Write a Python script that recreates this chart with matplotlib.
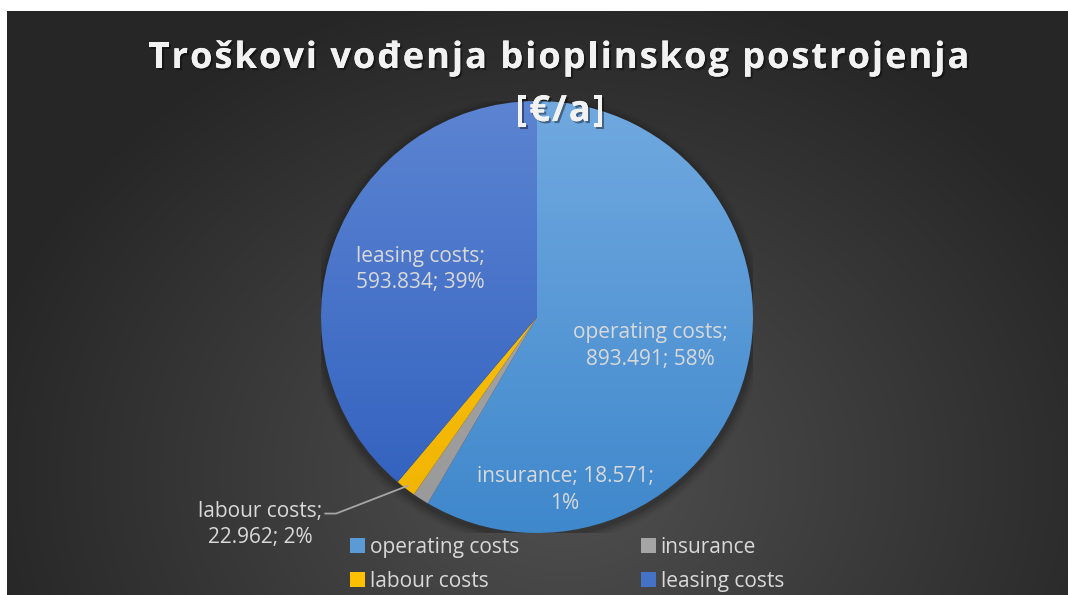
import numpy as np
import matplotlib.pyplot as plt
import matplotlib.patheffects as pe
from matplotlib.patches import Wedge, Circle
from matplotlib.colors import to_rgb

# Dati
categories = ["operating costs", "insurance", "labour costs", "leasing costs"]
values = [893491, 18571, 22962, 593834]
title_lines = ["Troškovi vođenja bioplinskog postrojenja", "[€/a]"]

# colori (alto, basso) per il gradiente di ogni fetta
colors_top = ["#71a9e0", "#ababab", "#ffc617", "#5c84d2"]
colors_bot = ["#3f88cc", "#999999", "#f0b400", "#2f5fbd"]
legend_colors = ["#5b9bd5", "#a5a5a5", "#ffc000", "#4472c4"]


def fmt_thousands(v):
    return f"{v:,}".replace(",", ".")


W, H = 1068, 595
fig = plt.figure(figsize=(W / 100, H / 100), dpi=100, facecolor="white")

# Sfondo con gradiente radiale
ax_bg = fig.add_axes([0, 0, 1, 1])
ax_bg.set_xlim(0, W)
ax_bg.set_ylim(H, 0)
ax_bg.axis("off")
yy, xx = np.mgrid[0:H, 0:W]
d = np.sqrt(((xx - 560) / 620.0) ** 2 + ((yy - 470) / 520.0) ** 2)
g = np.clip(0.315 - 0.17 * d, 0.15, 0.315)
img = np.dstack([g, g, g])
ax_bg.imshow(img, extent=[7, W, H, 11], zorder=0)

# Assi della torta
cx, cy, r = 537, 317, 216
ax = fig.add_axes([(cx - r) / W, (H - cy - r) / H, 2 * r / W, 2 * r / H])
ax.set_xlim(-1, 1)
ax.set_ylim(-1, 1)
ax.set_aspect("equal")
ax.axis("off")

# ombra
for k, a in enumerate([0.10, 0.08, 0.06, 0.04]):
    ax.add_patch(Circle((0, -0.015), 1 + 0.012 * (k + 1), color="black", alpha=a, lw=0, zorder=1))

total = sum(values)
pcts = [v / total * 100 for v in values]
angle = 90.0
grad = np.linspace(1, 0, 256).reshape(-1, 1)
wedges = []
for i, v in enumerate(values):
    span = v / total * 360.0
    w = Wedge((0, 0), 1, angle - span, angle, lw=0, facecolor="none", zorder=2)
    ax.add_patch(w)
    c1 = np.array(to_rgb(colors_top[i]))
    c2 = np.array(to_rgb(colors_bot[i]))
    cols = (grad[..., None] * c1 + (1 - grad[..., None]) * c2)
    im = ax.imshow(cols, extent=[-1, 1, -1, 1], origin="upper", zorder=2, aspect="auto")
    im.set_clip_path(w)
    wedges.append((angle - span, angle))
    angle -= span

lab_col = "#d9d9d9"
fs = 15
labels = [
    f"{categories[0]};\n{fmt_thousands(values[0])}; {round(pcts[0])}%",
    f"{categories[1]}; {fmt_thousands(values[1])};\n{round(pcts[1])}%",
    f"{categories[2]};\n{fmt_thousands(values[2])}; {round(pcts[2])}%",
    f"{categories[3]};\n{fmt_thousands(values[3])}; {round(pcts[3])}%",
]
pos = [(0.525, -0.135), (0.13, -0.80), (-1.28, -0.96), (-0.54, 0.22)]
for lab, (x, y) in zip(labels, pos):
    ax.text(x, y, lab, ha="center", va="center", color=lab_col, fontsize=fs,
            fontfamily="Open Sans", linespacing=1.35, zorder=5, clip_on=False)

# linea guida per labour costs
t1, t2 = wedges[2]
tm = np.radians((t1 + t2) / 2)
ex, ey = 0.985 * np.cos(tm), 0.985 * np.sin(tm)
ax.plot([-0.98, -0.93, ex], [-0.91, -0.91, ey], color="#a6a6a6", lw=1.3,
        zorder=3, clip_on=False)

# Titolo con spaziatura tra lettere
renderer = fig.canvas.get_renderer()
title_kw = dict(color="#f2f2f2", fontsize=26, fontweight="bold", fontfamily="Open Sans",
                va="baseline", ha="left",
                path_effects=[pe.withSimplePatchShadow(offset=(1.5, -1.5), shadow_rgbFace="black", alpha=0.4),
                              pe.Normal()])
spacing = 2.0
for line, (xc, yb) in zip(title_lines, [(559, 68), (560, 121)]):
    widths = []
    for ch in line:
        t = fig.text(0, 0, ch if ch != " " else "a", **title_kw)
        widths.append(t.get_window_extent(renderer).width if ch != " " else 0)
        t.remove()
    # larghezza dello spazio
    t = fig.text(0, 0, "a a", **title_kw)
    w_aa = t.get_window_extent(renderer).width
    t.remove()
    t = fig.text(0, 0, "aa", **title_kw)
    w_space = w_aa - t.get_window_extent(renderer).width
    t.remove()
    widths = [w if ch != " " else w_space for w, ch in zip(widths, line)]
    total_w = sum(widths) + spacing * (len(line) - 1)
    x = xc - total_w / 2
    for ch, w in zip(line, widths):
        if ch != " ":
            fig.text(x / W, 1 - yb / H, ch, **title_kw)
        x += w + spacing

# Legenda (riempita per colonne: riordino per avere righe come nell'originale)
order = [0, 2, 1, 3]
handles = [plt.Rectangle((0, 0), 1, 1, facecolor=legend_colors[i], lw=0) for i in order]
leg = fig.legend(handles, [categories[i] for i in order], loc="center", bbox_to_anchor=(0.531, 0.052),
                 ncol=2, frameon=False, handlelength=0.7, handleheight=0.7, handletextpad=0.25,
                 columnspacing=5.85, labelspacing=0.62, prop={"family": "Open Sans", "size": 15})
for t in leg.get_texts():
    t.set_color(lab_col)

fig.savefig("out.png", dpi=100, facecolor="white")
